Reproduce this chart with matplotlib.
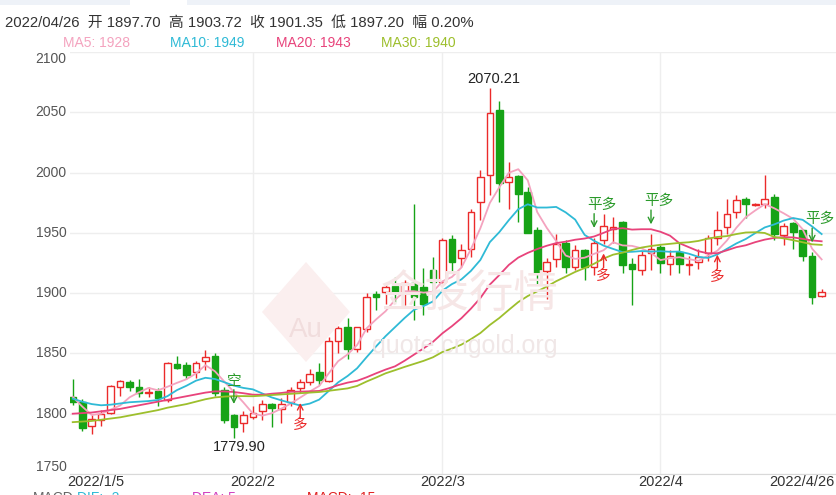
import numpy as np
import pandas as pd
import matplotlib
matplotlib.use('Agg')
import matplotlib.pyplot as plt
from matplotlib.patches import Polygon, Rectangle

plt.rcParams['font.family'] = ['Liberation Sans', 'Noto Sans CJK SC', 'DejaVu Sans']

# trading days shown on the chart
days = pd.bdate_range('2022-01-05', '2022-04-26')

opens = [1814, 1810, 1790, 1795, 1801, 1822, 1826, 1822, 1817, 1819,
         1811, 1841, 1840, 1835, 1844, 1848, 1820, 1799, 1792, 1797,
         1802, 1808, 1804, 1810, 1821, 1826, 1835, 1827, 1860, 1872,
         1854, 1870, 1899, 1901, 1906, 1900, 1908, 1905, 1919, 1909,
         1945, 1929, 1937, 1976, 1998, 2052, 1992, 1997, 1984, 1952,
         1918, 1928, 1942, 1922, 1936, 1922, 1944, 1953, 1959, 1924,
         1919, 1933, 1938, 1924, 1934, 1923, 1926, 1933, 1946, 1955,
         1967, 1978, 1973.4, 1974, 1980, 1948, 1958, 1952, 1931, 1897.70]
highs = [1829, 1812, 1799, 1803, 1824, 1828, 1828, 1829, 1822, 1821,
         1843, 1848, 1843, 1844, 1853, 1850, 1822, 1800, 1802, 1806,
         1811, 1809, 1813, 1822, 1829, 1837, 1842, 1864, 1873, 1879,
         1872, 1900, 1902, 1908, 1913, 1911, 1974, 1921, 1930, 1946,
         1948, 1941, 1970, 2002, 2070.21, 2059, 2009, 1998, 1988, 1955,
         1929, 1949, 1944, 1940, 1937, 1946, 1966, 1963, 1960, 1929,
         1935, 1949, 1940, 1936, 1942, 1931, 1937, 1948, 1968, 1978,
         1981, 1980, 1974.5, 1998, 1982, 1958, 1959, 1953, 1934, 1903.72]
lows = [1807, 1786, 1783, 1790, 1800, 1815, 1819, 1814, 1814, 1806,
        1810, 1837, 1829, 1830, 1836, 1815, 1792, 1779.90, 1785, 1796,
        1795, 1789, 1792, 1806, 1817, 1824, 1824, 1826, 1850, 1845,
        1851, 1868, 1886, 1891, 1893, 1890, 1878, 1882, 1892, 1908,
        1917, 1922, 1930, 1961, 1981, 1976, 1970, 1959, 1950, 1907,
        1895, 1922, 1917, 1919, 1911, 1915, 1941, 1942, 1917, 1890,
        1915, 1919, 1917, 1915, 1917, 1915, 1920, 1927, 1940, 1949,
        1962, 1962, 1972.5, 1971, 1944, 1940, 1937, 1927, 1891, 1897.20]
closes = [1810, 1788, 1796, 1800, 1823, 1827, 1822, 1817, 1818, 1813,
          1842, 1838, 1832, 1842, 1847, 1817, 1795, 1789, 1799, 1801,
          1808, 1805, 1808, 1820, 1826, 1833, 1828, 1860, 1871, 1854,
          1872, 1897, 1897, 1905, 1901, 1908, 1897, 1891, 1909, 1944,
          1926, 1936, 1967, 1996, 2049, 1991, 1996, 1982, 1950, 1917,
          1926, 1941, 1922, 1936, 1922, 1942, 1956, 1955, 1923, 1920,
          1932, 1937, 1925, 1931, 1924, 1924, 1930, 1946, 1952, 1966,
          1977, 1974, 1973.8, 1978, 1949, 1956, 1951, 1931, 1897, 1901.35]

ma5 = [1814, 1806, 1799, 1800, 1803.4, 1806.8, 1813.6, 1817.8, 1821.4, 1819.4,
       1822.4, 1825.6, 1828.6, 1833.4, 1840.2, 1835.2, 1826.6, 1818, 1809.4, 1800.2,
       1798.4, 1800.4, 1804.2, 1808.4, 1813.4, 1818.4, 1823, 1833.4, 1843.6, 1849.2,
       1857, 1870.8, 1878.2, 1885, 1894.4, 1901.6, 1901.6, 1900.4, 1901.2, 1909.8,
       1913.4, 1921.2, 1936.4, 1953.8, 1974.8, 1987.8, 1999.8, 2002.8, 1993.6, 1967.2,
       1954.2, 1943.2, 1931.2, 1928.4, 1929.4, 1932.6, 1935.6, 1942.2, 1939.6, 1939.2,
       1937.2, 1933.4, 1927.4, 1929, 1929.8, 1928.2, 1926.8, 1931, 1935.2, 1943.6,
       1954.2, 1963, 1968.6, 1973.8, 1970.4, 1966.2, 1961.6, 1953, 1936.8, 1928]
ma10 = [1812.5, 1810, 1808, 1807, 1807.5, 1808.5, 1809.5, 1810, 1810.5, 1811.4,
        1814.6, 1819.6, 1823.2, 1827.4, 1829.8, 1828.8, 1826.1, 1823.3, 1821.4, 1820.2,
        1816.8, 1813.5, 1811.1, 1808.9, 1806.8, 1808.4, 1811.7, 1818.8, 1826, 1831.3,
        1837.7, 1846.9, 1855.8, 1864.3, 1871.8, 1879.3, 1886.2, 1889.3, 1893.1, 1902.1,
        1907.5, 1911.4, 1918.4, 1927.5, 1942.3, 1950.6, 1960.5, 1969.6, 1973.7, 1971,
        1971, 1971.5, 1967, 1961, 1948.3, 1943.4, 1939.4, 1936.7, 1934, 1934.3,
        1934.9, 1934.5, 1934.8, 1934.3, 1934.5, 1932.7, 1930.1, 1929.2, 1932.1, 1936.7,
        1941.2, 1944.9, 1949.8, 1954.5, 1957, 1960.2, 1962.3, 1960.8, 1955.3, 1949]
ma20 = [1800, 1800.5, 1801, 1802, 1803, 1804, 1805.5, 1807, 1808.5, 1810,
        1811.5, 1813, 1814.5, 1816, 1817.5, 1818.5, 1818.5, 1818, 1817, 1815.8,
        1815.7, 1816.6, 1817.2, 1818.2, 1818.3, 1818.6, 1818.9, 1821.1, 1823.7, 1825.8,
        1827.3, 1830.2, 1833.5, 1836.6, 1839.3, 1843.9, 1849, 1854.1, 1859.6, 1866.7,
        1872.6, 1879.2, 1887.1, 1895.9, 1907.1, 1915, 1923.4, 1929.5, 1933.4, 1936.6,
        1939.3, 1941.5, 1942.7, 1944.3, 1945.3, 1947, 1950, 1953.2, 1953.9, 1952.7,
        1953, 1953, 1950.9, 1947.7, 1941.4, 1938.1, 1934.8, 1933, 1933.1, 1935.5,
        1938.1, 1939.7, 1942.3, 1944.4, 1945.8, 1946.5, 1946.2, 1945, 1943.7, 1943]
ma30 = [1793, 1793.5, 1794, 1795, 1796, 1797, 1798.5, 1800, 1801.5, 1803,
        1805, 1806.5, 1808, 1810, 1812, 1813.5, 1814.2, 1814.6, 1814.6, 1814.5,
        1815, 1815.5, 1816, 1816.5, 1817, 1817.5, 1818, 1819, 1820, 1821,
        1823, 1826.7, 1830, 1833.5, 1836.1, 1838.8, 1841.3, 1843.8, 1846.8, 1851.2,
        1854, 1857.3, 1861.8, 1866.9, 1873.6, 1879.4, 1886.1, 1892.6, 1897.6, 1901.5,
        1905.4, 1909.9, 1913.7, 1917.6, 1920.8, 1924.4, 1928.7, 1931.9, 1933.6, 1935.8,
        1937.8, 1939.1, 1940.1, 1940.9, 1941.7, 1942.2, 1943.3, 1945.2, 1946.6, 1947.3,
        1949, 1950.3, 1950.5, 1949.9, 1946.6, 1945.4, 1943.9, 1942.2, 1940.5, 1940]

# signal marks: (day index, label, above the candle?)
signals = [(17, '空', True), (24, '多', False), (55, '平多', True), (56, '多', False),
           (61, '平多', True), (68, '多', False), (78, '平多', True)]

red = '#eb2a2a'
green = '#16a316'
ma_colors = ['#f4a3bf', '#2fbad6', '#e8437b', '#9dbf2c']

fig = plt.figure(figsize=(8.37, 4.95), dpi=100)
ax = fig.add_axes([70/837, 21/495, 767/837, 422/495])

x = np.arange(len(days))
o = np.array(opens)
c = np.array(closes)
up = c >= o
cols = [red if u else green for u in up]

# tab strip at the very top
fig.patches.append(Rectangle((0, 1-5/495), 130/837, 5/495, transform=fig.transFigure,
                             facecolor='#eef2f8', edgecolor='none'))
fig.patches.append(Rectangle((187/837, 1-5/495), 650/837, 5/495, transform=fig.transFigure,
                             facecolor='#eef2f8', edgecolor='none'))

# watermark
fig.patches.append(Polygon([[306/837, 1-262/495], [350/837, 1-312/495], [306/837, 1-362/495], [262/837, 1-312/495]],
                           closed=True, transform=fig.transFigure, facecolor='#fbefef', edgecolor='none', zorder=0))
fig.text(306/837, 1-330/495, 'Au', fontsize=20, color='#f1dddd', ha='center', va='center', zorder=0)
fig.text(470/837, 1-295/495, '金投行情', fontsize=32, color='#f6e6e6', ha='center', va='center', zorder=0)
fig.text(465/837, 1-346/495, 'quote.cngold.org', fontsize=18, color='#f0e7e7', ha='center', va='center', zorder=0)

ax.patch.set_alpha(0)
ax.vlines(x, lows, highs, colors=cols, lw=1, zorder=2)
ax.bar(x, np.maximum(np.abs(c - o), 0.4), bottom=np.minimum(o, c), width=0.7,
       color=['white' if u else green for u in up], edgecolor=cols, lw=1, zorder=3)

for ma, col in zip([ma5, ma10, ma20, ma30], ma_colors):
    ax.plot(x, ma, color=col, lw=1.3, zorder=4)

ax.set_xlim(-0.285, 80.62)
ax.set_ylim(1750, 2100)
for spine in ['left', 'right', 'top']:
    ax.spines[spine].set_visible(False)
ax.spines['bottom'].set_color('#d9d9d9')
ax.tick_params(length=0, labelleft=False, labelbottom=False)
ax.set_yticks(range(1750, 2101, 50))
ax.set_xticks([])
ax.grid(axis='y', color='#eeeeee', lw=1, zorder=0)

# y labels (top and bottom ones are pushed inside like the original)
for v in range(1750, 2101, 50):
    va = 'top' if v == 2100 else ('bottom' if v == 1750 else 'center')
    ax.text(-0.0045, v, str(v), transform=ax.get_yaxis_transform(), ha='right', va=va,
            fontsize=10, color='#555555')

# month split lines and date labels
month_start = [i for i in range(1, len(days)) if days[i].month != days[i-1].month]
for i in month_start:
    ax.axvline(i, color='#eeeeee', lw=1, zorder=0)
    ax.text(i, -0.02, f'{days[i].year}/{days[i].month}', transform=ax.get_xaxis_transform(),
            ha='center', va='center', fontsize=10.5, color='#333333')
ax.text(-0.55, -0.02, '2022/1/5', transform=ax.get_xaxis_transform(), ha='left', va='center',
        fontsize=10.5, color='#333333')
ax.text(80.4, -0.02, '2022/4/26', transform=ax.get_xaxis_transform(), ha='right', va='center',
        fontsize=10.5, color='#333333')

# high / low marks
imax = int(np.argmax(highs))
imin = int(np.argmin(lows))
ax.annotate(f'{highs[imax]:.2f}', (imax, highs[imax]), xytext=(4, 9), textcoords='offset pixels',
            ha='center', va='center', fontsize=10.5, color='#222222', zorder=6)
ax.annotate(f'{lows[imin]:.2f}', (imin, lows[imin]), xytext=(5, -9), textcoords='offset pixels',
            ha='center', va='center', fontsize=10.5, color='#222222', zorder=6)

for i, label, above in signals:
    if above:
        col = '#2a9a2a'
        ax.annotate('', (i, highs[i]), xytext=(0, 24), textcoords='offset pixels',
                    xycoords='data', arrowprops=dict(arrowstyle='->', color=col, lw=1,
                                                     shrinkA=0, shrinkB=7), zorder=6)
        dx = 8 if len(label) > 1 else 0
        ax.annotate(label, (i, highs[i]), xytext=(dx, 33), textcoords='offset pixels',
                    ha='center', va='center', fontsize=10.5, color=col, zorder=6)
    else:
        col = red
        ax.annotate('', (i, lows[i]), xytext=(0, -24), textcoords='offset pixels',
                    arrowprops=dict(arrowstyle='->', color=col, lw=1, shrinkA=0, shrinkB=7), zorder=6)
        ax.annotate(label, (i, lows[i]), xytext=(0, -32), textcoords='offset pixels',
                    ha='center', va='center', fontsize=10.5, color=col, zorder=6)

# header and legend
fig.text(5/837, 1-23/495, '2022/04/26  开 1897.70  高 1903.72  收 1901.35  低 1897.20  幅 0.20%',
         fontsize=10.7, color='#333333', ha='left', va='center')
for px, name, val, col in zip([63, 170, 276, 381], ['MA5', 'MA10', 'MA20', 'MA30'],
                              [ma5[-1], ma10[-1], ma20[-1], ma30[-1]], ma_colors):
    fig.text(px/837, 1-43/495, f'{name}: {val:.0f}', fontsize=10, color=col, ha='left', va='center')

# MACD legend, cut by the bottom edge as in the original
for px, txt, col in [(33, 'MACD', '#666666'), (77, 'DIF: -2', '#2fbad6'),
                     (192, 'DEA: 5', '#d040c0'), (307, 'MACD: -15', '#e02020')]:
    fig.text(px/837, 1-498/495, txt, fontsize=10, color=col, ha='left', va='center')

fig.savefig('out.png', dpi=100)
